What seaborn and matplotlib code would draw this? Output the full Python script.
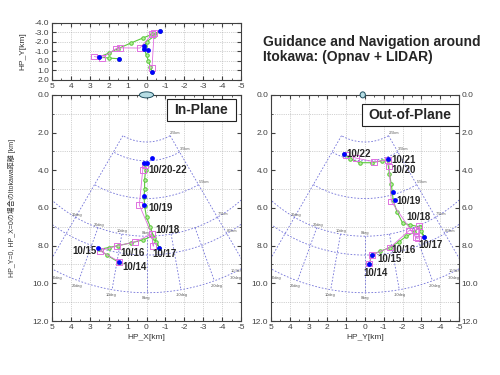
import numpy as np
import matplotlib
matplotlib.use('Agg')
import matplotlib.pyplot as plt
import seaborn as sns
from matplotlib.patches import Ellipse, Rectangle
from matplotlib.ticker import MultipleLocator, FormatStrFormatter

# ---- data (km) ----
# top view: HP_X vs HP_Y
top_blue_x = [-0.71, 0.12, 0.13, -0.06, 2.53, 1.45, -0.29]
top_blue_y = [-3.11, -1.60, -1.28, -1.14, -0.40, -0.22, 1.12]
top_pink_x = [2.76, 2.37, 1.60, 1.40, 0.35, -0.30, -0.40, -0.29]
top_pink_y = [-0.46, -0.29, -1.30, -1.37, -1.35, -2.80, -2.90, 0.76]
top_green_x = [1.45, 2.0, 2.53, 2.0, 1.5, 0.8, 0.2, -0.3, -0.71, -0.4, 0.0, 0.1, 0.12, 0.0, -0.1, -0.2, -0.29]
top_green_y = [-0.22, -0.3, -0.40, -0.8, -1.3, -1.9, -2.4, -2.8, -3.11, -2.6, -2.0, -1.6, -1.25, -0.6, 0.0, 0.6, 1.12]

# in-plane: HP_X vs distance
in_blue_x = [-0.27, 0.13, -0.04, 0.13, 0.13, 2.55, 1.45, -0.68]
in_blue_z = [3.33, 3.60, 3.60, 5.36, 5.84, 8.14, 8.89, 8.14]
in_pink_x = [1.45, 2.46, 1.58, 0.60, -0.27, -0.36, -0.27, 0.38, 0.20, 0.10]
in_pink_z = [8.85, 8.27, 8.02, 7.80, 7.38, 8.02, 7.38, 5.84, 3.98, 3.70]
in_green_x = [1.45, 2.1, 2.5, 2.0, 1.5, 0.8, 0.2, -0.3, -0.5, -0.68, -0.4, -0.2, 0.0, 0.1, 0.13, 0.1, 0.1, 0.05, 0.1]
in_green_z = [8.9, 8.5, 8.2, 8.1, 8.0, 7.85, 7.7, 7.5, 7.8, 8.1, 7.6, 7.0, 6.5, 5.9, 5.4, 5.0, 4.5, 4.0, 3.65]
in_labels = ['10/20-22', '10/19', '10/18', '10/15', '10/16', '10/17', '10/14']
in_label_x = [-0.10, -0.10, -0.45, 3.90, 1.37, -0.33, 1.28]
in_label_z = [4.00, 6.00, 7.17, 8.30, 8.40, 8.46, 9.12]

# out-of-plane: HP_Y vs distance
out_blue_y = [1.10, -1.20, -1.50, -1.59, -3.13, -0.39, -0.23]
out_blue_z = [3.13, 3.40, 5.13, 5.58, 7.53, 8.50, 8.98]
out_pink_y = [-0.23, -0.35, -1.33, -2.35, -2.74, -2.88, -2.83, -2.70, -1.40, -1.29, -1.20, -0.50, 0.50, 1.00]
out_pink_z = [8.95, 8.50, 8.10, 7.20, 7.17, 6.96, 7.62, 7.56, 5.66, 3.80, 3.45, 3.55, 3.35, 3.20]
out_green_y = [-0.23, -0.35, -0.8, -1.33, -1.8, -2.2, -2.6, -2.9, -3.0, -3.13, -2.9, -2.4, -2.0, -1.7, -1.5, -1.45, -1.4, -1.3, -1.2, -0.9, -0.35, 0.27, 0.8, 1.1]
out_green_z = [8.98, 8.5, 8.3, 8.1, 7.8, 7.5, 7.3, 7.0, 7.2, 7.53, 7.0, 6.9, 6.8, 6.2, 5.6, 5.13, 4.75, 4.2, 3.45, 3.5, 3.6, 3.6, 3.4, 3.15]
out_labels = ['10/22', '10/21', '10/20', '10/19', '10/18', '10/17', '10/16', '10/15', '10/14']
out_label_y = [1.00, -1.42, -1.42, -1.65, -2.20, -2.83, -1.42, -0.65, 0.09]
out_label_z = [3.13, 3.45, 3.98, 5.63, 6.46, 7.97, 8.23, 8.71, 9.47]

# sector grid (range arcs in km, angle rays in deg)
arc_r = [2.5, 3.5, 5.5, 7.5, 8.5, 10.5]
arc_names = ['2.5km', '3.5km', '5.5km', '7.5km', '8.5km', '10.5km']
ray_deg = [30, 20, 10, 0, -10, -20, -30]

BLUE = '#0000ff'
PINK = '#e070e0'
GREEN = '#5cc83c'
GRIDC = '#7070d8'

sns.set_style('ticks')
plt.rcParams['font.family'] = ['Liberation Sans', 'Noto Sans CJK JP', 'DejaVu Sans']
plt.rcParams['axes.unicode_minus'] = False
plt.rcParams['axes.edgecolor'] = '#404040'
plt.rcParams['xtick.color'] = '#404040'
plt.rcParams['ytick.color'] = '#404040'


def sector_grid(ax):
    kw = dict(color=GRIDC, lw=0.6, ls=(0, (2, 2)), zorder=1)
    tkw = dict(fontsize=2.8, color='#555555', zorder=1, clip_on=True)
    for r, name in zip(arc_r, arc_names):
        span = 30 if r < 7 else 42
        th = np.radians(np.linspace(-span, span, 80))
        ax.plot(r * np.sin(th), r * np.cos(th), **kw)
        t = np.radians(-30 if r < 10 else -25)
        ax.text(r * np.sin(t), r * np.cos(t) - 0.05, name, ha='left', va='bottom', **tkw)
    for d in [30, -30]:
        t = np.radians(d)
        ax.plot([2.5 * np.sin(t), 7.5 * np.sin(t)], [2.5 * np.cos(t), 7.5 * np.cos(t)], **kw)
    for d in ray_deg:
        t = np.radians(d)
        ax.plot([7.5 * np.sin(t), 10.5 * np.sin(t)], [7.5 * np.cos(t), 10.5 * np.cos(t)], **kw)
        tl = np.radians(max(min(d, 26), -26))
        ax.text(10.8 * np.sin(tl), 10.8 * np.cos(tl), f'{d}deg', ha='center', va='center', **tkw)
        if d >= 0:
            ax.text(7.35 * np.sin(t), 7.35 * np.cos(t), f'{d}deg', ha='center', va='center', **tkw)


def style_axes(ax, ymaj, ymin):
    ax.set_xlim(5, -5)
    ax.xaxis.set_major_locator(MultipleLocator(1))
    ax.xaxis.set_minor_locator(MultipleLocator(0.5))
    ax.yaxis.set_major_locator(MultipleLocator(ymaj))
    ax.yaxis.set_minor_locator(MultipleLocator(ymin))
    ax.yaxis.set_major_formatter(FormatStrFormatter('%.1f'))
    ax.grid(True, which='major', axis='x', color='#a8a8a8', lw=0.5, ls=':')
    ax.grid(True, which='minor' if ymin == 1 else 'major', axis='y', color='#a8a8a8', lw=0.5, ls=':')
    ax.tick_params(which='both', direction='in', top=True, right=True, labelsize=6, pad=2)
    ax.tick_params(which='major', length=3)
    ax.tick_params(which='minor', length=1.5)
    for s in ax.spines.values():
        s.set_linewidth(0.8)


def draw_track(ax, gx, gz, px, pz, bx, bz):
    sns.lineplot(x=gx, y=gz, sort=False, estimator=None, ax=ax, color=GREEN, lw=0.8,
                 marker='o', markersize=2.5, markeredgecolor=GREEN, markerfacecolor='#b8f0a0', zorder=3)
    sns.lineplot(x=px, y=pz, sort=False, estimator=None, ax=ax, color=PINK, lw=0.6, zorder=3)
    sns.scatterplot(x=px, y=pz, ax=ax, marker='s', s=18, facecolor='none', edgecolor=PINK, linewidth=0.7, zorder=4)
    sns.scatterplot(x=bx, y=bz, ax=ax, color=BLUE, s=12, edgecolor=BLUE, linewidth=0, zorder=5)


fig = plt.figure(figsize=(5, 3.75), dpi=100)
ax_top = fig.add_axes([0.104, 0.787, 0.378, 0.152])
ax_in = fig.add_axes([0.104, 0.144, 0.378, 0.603])
ax_out = fig.add_axes([0.542, 0.144, 0.376, 0.603])

# top: XY view
style_axes(ax_top, 1, 1)
ax_top.set_ylim(2, -4)
ax_top.grid(True, which='major', axis='y', color='#a8a8a8', lw=0.5, ls=':')
draw_track(ax_top, top_green_x, top_green_y, top_pink_x, top_pink_y, top_blue_x, top_blue_y)
ax_top.set_ylabel('HP_Y[km]', fontsize=6, color='#333333', labelpad=6)
ax_top.set_xlabel('')

for ax in (ax_in, ax_out):
    style_axes(ax, 2, 1)
    ax.set_ylim(12, 0)
    sector_grid(ax)

# in-plane
draw_track(ax_in, in_green_x, in_green_z, in_pink_x, in_pink_z, in_blue_x, in_blue_z)
for t, x, z in zip(in_labels, in_label_x, in_label_z):
    ax_in.text(x, z, t, fontsize=7, fontweight='bold', ha='left', va='center', zorder=6)
ax_in.set_xlabel('HP_X[km]', fontsize=6, color='#333333', labelpad=2)
ax_in.set_ylabel('HP_Y=0, HP_X=0の場合のItokawa距離 [km]', fontsize=5, color='#333333', labelpad=12)
ax_in.add_patch(Rectangle((-1.1, 0.23), -3.63, 1.17, fill=True, facecolor='white',
                          edgecolor='#222222', lw=0.8, zorder=6))
ax_in.text(-2.9, 0.82, 'In-Plane', fontsize=10, fontweight='bold', ha='center', va='center', zorder=7)
ax_in.add_patch(Ellipse((0, 0), 0.75, 0.32, facecolor='#b6dde4', edgecolor='#205060', lw=0.7,
                        zorder=8, clip_on=False))

# out-of-plane
draw_track(ax_out, out_green_y, out_green_z, out_pink_y, out_pink_z, out_blue_y, out_blue_z)
for t, x, z in zip(out_labels, out_label_y, out_label_z):
    ax_out.text(x, z, t, fontsize=7, fontweight='bold', ha='left', va='center', zorder=6)
ax_out.set_xlabel('HP_Y[km]', fontsize=6, color='#333333', labelpad=2)
ax_out.set_ylabel('')
ax_out.tick_params(labelright=True)
ax_out.add_patch(Rectangle((0.17, 0.48), -5.15, 1.17, fill=True, facecolor='white',
                           edgecolor='#222222', lw=0.8, zorder=6))
ax_out.text(-2.4, 1.07, 'Out-of-Plane', fontsize=10, fontweight='bold', ha='center', va='center', zorder=7)
ax_out.add_patch(Ellipse((0.12, 0), 0.28, 0.32, facecolor='#b6dde4', edgecolor='#205060', lw=0.7,
                         zorder=8, clip_on=False))

fig.text(0.526, 0.869, 'Guidance and Navigation around\nItokawa: (Opnav + LIDAR)',
         fontsize=10, fontweight='bold', ha='left', va='center', linespacing=1.1)

fig.savefig('out.png', dpi=100)
